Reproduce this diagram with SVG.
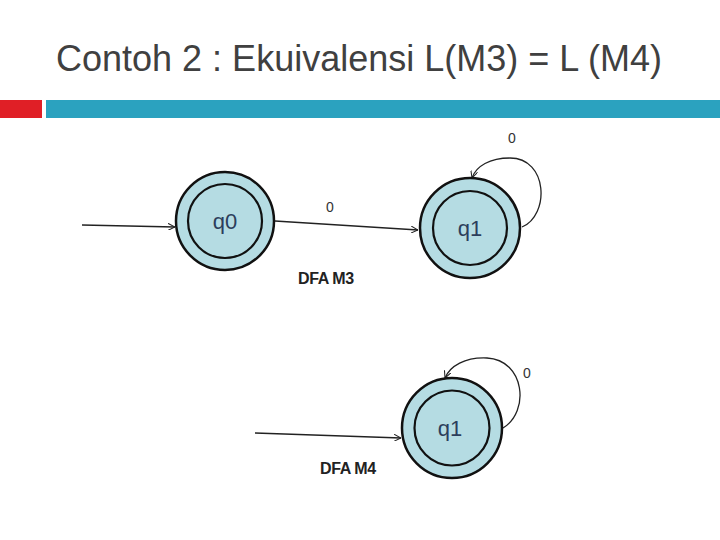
<svg xmlns="http://www.w3.org/2000/svg" width="720" height="540" viewBox="0 0 720 540">
<style>
.title{font-family:"Liberation Sans",Arial,sans-serif;font-size:36px;fill:#404040}
.outer{fill:#b5dce3;stroke:#111;stroke-width:2.5}
.inner{fill:#b5dce3;stroke:#111;stroke-width:2.2}
.st{font-family:"Liberation Sans",Arial,sans-serif;font-size:22px;fill:#2c3e5c;text-anchor:middle}
.lbl{font-family:"Liberation Sans",Arial,sans-serif;font-size:14px;fill:#333;text-anchor:middle}
.cap{font-family:"Liberation Sans",Arial,sans-serif;font-size:16px;font-weight:bold;fill:#222;letter-spacing:-0.4px}
.edge{fill:none;stroke:#222;stroke-width:1.3}
</style>
<defs>
<marker id="arr" viewBox="0 0 10 10" refX="10" refY="5" markerWidth="7" markerHeight="7" orient="auto" markerUnits="userSpaceOnUse">
<path d="M0,0 L10,5 L0,10" fill="none" stroke="#222" stroke-width="1.5"/>
</marker>
</defs>
<rect width="720" height="540" fill="#fff"/>
<text class="title" x="56" y="71">Contoh 2 : Ekuivalensi L(M3) = L (M4)</text>
<rect x="0" y="100" width="42" height="18" fill="#e01f26"/>
<rect x="46" y="100" width="674" height="18" fill="#2ba2bf"/>
<g id="connectors">
<path class="edge" d="M82,225 L175,227" marker-end="url(#arr)"/>
<path class="edge" d="M275,221 L418,230" marker-end="url(#arr)"/>
<path class="edge" d="M522,227 C550,215 548,158 510,158 C490,158 476,166 472,178" marker-end="url(#arr)"/>
<path class="edge" d="M255,433 L401,438" marker-end="url(#arr)"/>
<path class="edge" d="M503,428 C530,412 525,360 487,358 C465,357 450,366 445,378" marker-end="url(#arr)"/>
</g>
<g id="m3q0">
<circle class="outer" cx="225" cy="221" r="49"/>
<circle class="inner" cx="225" cy="221" r="37"/>
<text class="st" x="225" y="229">q0</text>
</g>
<g id="m3q1">
<circle class="outer" cx="470" cy="228" r="50"/>
<circle class="inner" cx="470" cy="228" r="37"/>
<text class="st" x="470" y="236">q1</text>
</g>
<g id="m4q1">
<circle class="outer" cx="452" cy="428" r="50"/>
<circle class="inner" cx="452" cy="428" r="37.5"/>
<text class="st" x="450" y="436">q1</text>
</g>
<text class="lbl" x="330" y="212">0</text>
<text class="lbl" x="512" y="143">0</text>
<text class="lbl" x="527" y="378">0</text>
<text class="cap" x="298" y="284">DFA M3</text>
<text class="cap" x="320" y="474">DFA M4</text>
</svg>
